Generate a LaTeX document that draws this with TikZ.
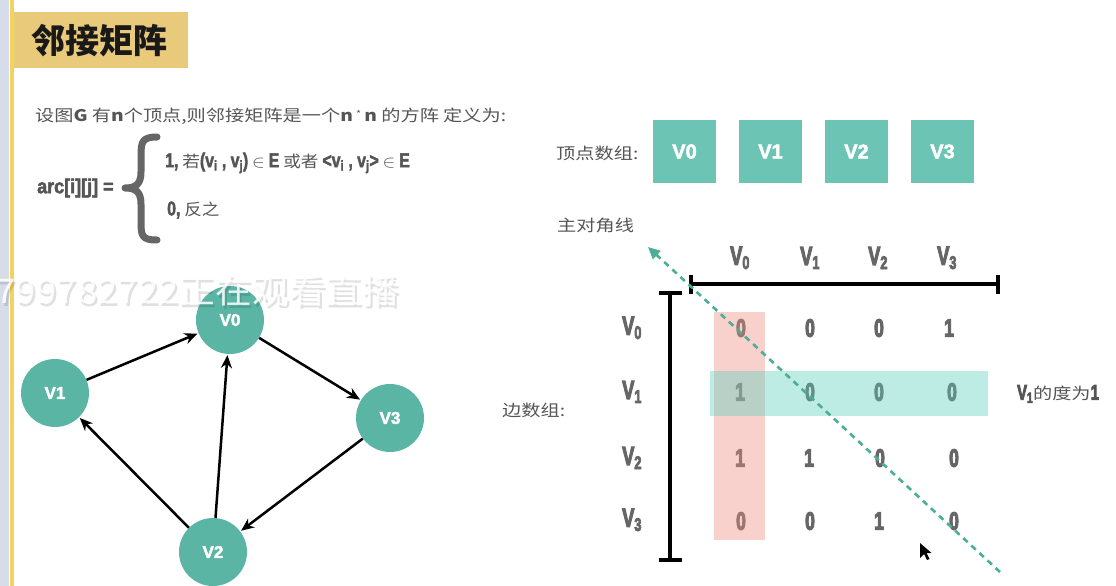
\documentclass[tikz,border=0pt]{standalone}
\usepackage{graphicx}
\usepackage{fontspec}
\setmainfont{Noto Sans CJK SC}
\newfontfamily\lib{Liberation Sans}[BoldFeatures={FakeBold=2.5}]
\newfontfamily\libh{Liberation Sans}[BoldFeatures={FakeBold=5}]
\usetikzlibrary{arrows.meta}
\definecolor{tealbox}{HTML}{6CC4B5}
\definecolor{tealnode}{HTML}{5BB5A5}
\definecolor{tealdash}{HTML}{4DAE96}
\definecolor{gold}{HTML}{E9C97A}
\definecolor{stripe}{HTML}{F3D25E}
\definecolor{sidebar}{HTML}{D6DCEA}
\definecolor{txt}{HTML}{555555}
\definecolor{cell}{HTML}{666666}
\definecolor{redhl}{HTML}{EE8E80}
\definecolor{tealhl}{HTML}{5CD0BF}
\newcommand{\cnd}[1]{\scalebox{0.72}[1]{\lib\bfseries #1}}
\newcommand{\hvy}[1]{\scalebox{0.7}[1]{\libh\bfseries #1}}
\newcommand{\wide}[1]{\scalebox{1.2}[1]{#1}}
\tikzset{
  vbox/.style={fill=tealbox, minimum width=63pt, minimum height=63pt, inner sep=0pt, text=white, font=\lib\bfseries\fontsize{20}{20}\selectfont},
  gnode/.style={circle, fill=tealnode, minimum size=68pt, inner sep=0pt, text=white, font=\lib\bfseries\fontsize{17}{17}\selectfont},
  gedge/.style={line width=2.5pt, -{Stealth[length=13pt,width=11pt]}, shorten >=1pt},
  lbl/.style={text=txt, font=\fontsize{16}{18}\selectfont, inner sep=0pt},
  hdr/.style={text=cell, font=\fontsize{26}{26}\selectfont, inner sep=0pt},
  cellnum/.style={text=cell, font=\fontsize{25}{25}\selectfont, inner sep=0pt},
  bar/.style={line width=4pt, black},
}
\begin{document}
\begin{tikzpicture}[x=1pt,y=-1pt]
\useasboundingbox (0,0) rectangle (1116,586);
\fill[white] (0,0) rectangle (1116,586);
% side strips
\fill[sidebar] (0,0) rectangle (9,586);
\fill[stripe] (9.5,0) rectangle (13.5,586);
% title
\fill[gold] (13.5,12) rectangle (188,68);
\node[font=\fontsize{34}{34}\selectfont\bfseries, text=black!90] (title) at (99,41) {邻接矩阵};
% definition
\node[lbl, anchor=west] (def) at (35,116) {\wide{设图\textbf{G} 有\textbf{n}个顶点,则邻接矩阵是一个\textbf{n}\,\raisebox{4pt}{\small *}\,\textbf{n} 的方阵 定义为:}};
\node[lbl, anchor=west] (arc) at (37,188) {\scalebox{0.9}[1]{\lib\bfseries\fontsize{20}{20}\selectfont arc[i][j] =}};
\draw[line width=7pt, cell, line cap=round, line join=round]
  (157,137) .. controls (142,137) and (141,142) .. (141,156) -- (141,172)
  .. controls (141,184) and (136,188) .. (125,188)
  .. controls (136,188) and (141,192) .. (141,204) -- (141,222)
  .. controls (141,236) and (142,240) .. (157,240);
\node[lbl, anchor=west] (case1) at (165,163) {\scalebox{1.1}[1]{\cnd{\fontsize{20}{20}\selectfont 1,} 若\cnd{\fontsize{20}{20}\selectfont (v\textsubscript{i} , v\textsubscript{j})} $\in$ \cnd{\fontsize{20}{20}\selectfont E} 或者 \cnd{\fontsize{20}{20}\selectfont <v\textsubscript{i} , v\textsubscript{j}>} $\in$ \cnd{\fontsize{20}{20}\selectfont E}}};
\node[lbl, anchor=west] (case0) at (167,210) {\scalebox{1.1}[1]{\cnd{\fontsize{20}{20}\selectfont 0,} 反之}};
% vertex array
\node[lbl, anchor=west] (vlabel) at (556,153) {\wide{顶点数组:}};
\node[vbox] (a0) at (684.5,151.5) {V0};
\node[vbox] (a1) at (770.5,151.5) {V1};
\node[vbox] (a2) at (856.5,151.5) {V2};
\node[vbox] (a3) at (942.5,151.5) {V3};
\node[lbl, anchor=west] (diag) at (557,225) {\wide{主对角线}};
\node[lbl, anchor=west] (elabel) at (502,410) {\wide{边数组:}};
% matrix bars
\draw[bar] (691,284) -- (998,284);
\draw[bar] (691,275) -- (691,294);
\draw[bar] (998,275) -- (998,294);
\draw[bar] (670,293) -- (670,560);
\draw[bar] (659,293) -- (682,293);
\draw[bar] (659,560) -- (682,560);
% headers
\node[hdr] (c0) at (740,258) {\hvy{V\textsubscript{0}}};
\node[hdr] (c1) at (810,258) {\hvy{V\textsubscript{1}}};
\node[hdr] (c2) at (878,258) {\hvy{V\textsubscript{2}}};
\node[hdr] (c3) at (947,258) {\hvy{V\textsubscript{3}}};
\node[hdr] (r0) at (632,328) {\hvy{V\textsubscript{0}}};
\node[hdr] (r1) at (632,392) {\hvy{V\textsubscript{1}}};
\node[hdr] (r2) at (632,458) {\hvy{V\textsubscript{2}}};
\node[hdr] (r3) at (632,520) {\hvy{V\textsubscript{3}}};
% cells
\node[cellnum] (m00) at (741,328) {\hvy{0}};
\node[cellnum] (m01) at (810,328) {\hvy{0}};
\node[cellnum] (m02) at (879,328) {\hvy{0}};
\node[cellnum] (m03) at (949,328) {\hvy{1}};
\node[cellnum] (m10) at (740,392) {\hvy{1}};
\node[cellnum] (m11) at (810,392) {\hvy{0}};
\node[cellnum] (m12) at (879,392) {\hvy{0}};
\node[cellnum] (m13) at (952,392) {\hvy{0}};
\node[cellnum] (m20) at (740,458) {\hvy{1}};
\node[cellnum] (m21) at (809,458) {\hvy{1}};
\node[cellnum] (m22) at (880,458) {\hvy{0}};
\node[cellnum] (m23) at (954,458) {\hvy{0}};
\node[cellnum] (m30) at (741,521) {\hvy{0}};
\node[cellnum] (m31) at (810,521) {\hvy{0}};
\node[cellnum] (m32) at (879,521) {\hvy{1}};
\node[cellnum] (m33) at (954,521) {\hvy{0}};
% highlights
\fill[redhl, fill opacity=0.4] (714,312) rectangle (765,540);
\fill[tealhl, fill opacity=0.4] (710,371) rectangle (988,416);
\node[lbl, anchor=west] (deg) at (1017,394) {\hvy{\fontsize{21}{21}\selectfont V\textsubscript{1}}\wide{的度为}\hvy{\fontsize{21}{21}\selectfont 1}};
% diagonal
\coordinate (dstart) at (1000,572);
\coordinate (dend) at (648,247);
\draw[tealdash, line width=2.6pt, dash pattern=on 6pt off 5pt, -{Triangle[length=12pt,width=11pt]}] (dstart) -- (dend);
% cursor
\fill[black] (920,543) -- (920,558) -- (924,554) -- (927,560) -- (929.5,559) -- (926.5,553) -- (931.5,553) -- cycle;
% graph
\node[gnode] (v0) at (230,320) {V0};
\node[gnode] (v1) at (55,393) {V1};
\node[gnode] (v3) at (390,418) {V3};
\node[gnode] (v2) at (213,552) {V2};
\draw[gedge] (v1) -- (v0);
\draw[gedge] (v0) -- (v3);
\draw[gedge] (v3) -- (v2);
\draw[gedge] (v2) -- (v1);
\draw[gedge] (v2) -- (v0);
% watermark
\node[anchor=west, font=\fontsize{34}{34}\selectfont, text=black, opacity=0.12] (wmshadow) at (-6,294) {\scalebox{1.08}[1]{799782722正在观看直播}};
\node[anchor=west, font=\fontsize{34}{34}\selectfont, text=white, opacity=0.85] (wm) at (-8,291) {\scalebox{1.08}[1]{799782722正在观看直播}};
\end{tikzpicture}
\end{document}
